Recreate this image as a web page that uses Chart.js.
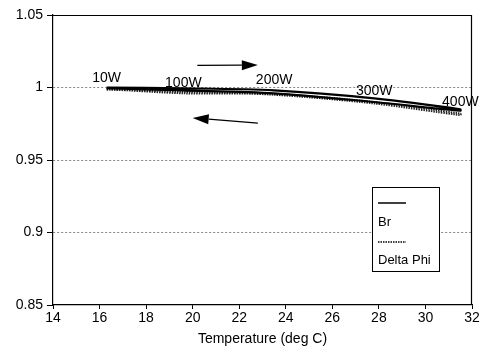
<!DOCTYPE html>
<html><head><meta charset="utf-8">
<script src="https://cdn.jsdelivr.net/npm/chart.js@4/dist/chart.umd.min.js"></script>
<style>html,body{margin:0;padding:0;background:#fff}canvas{display:block}</style>
</head><body>
<canvas id="c" width="486" height="348"></canvas>
<script>
// ---- data ----
const temps      = [16.3, 19.6, 23.5, 27.8, 31.5];
const powerLabels = ['10W', '100W', '200W', '300W', '400W'];
const brHeating   = [1.000, 0.9995, 0.998, 0.9925, 0.985];
const brCooling   = [0.9995, 0.998, 0.996, 0.990, 0.984];
const dphiHeating = [0.999, 0.996, 0.9955, 0.990, 0.982];
const dphiCooling = [0.9985, 0.997, 0.995, 0.989, 0.981];
const xTicks = [14, 16, 18, 20, 22, 24, 26, 28, 30, 32];
const yTicks = [0.85, 0.9, 0.95, 1, 1.05];
const yTickLabels = ['0.85', '0.9', '0.95', '1', '1.05'];
const seriesNames = ['Br', 'Delta Phi'];
const labelY = [1.0035, 1.0005, 1.0025, 0.9945, 0.9875];
const arrowRight = [[20.2, 1.0152], [22.8, 1.0155]];
const arrowLeft  = [[22.8, 0.9755], [20.0, 0.979]];

function loop(vUp, vDown) {
  const pts = temps.map((t, i) => ({x: t, y: vUp[i]}));
  for (let i = temps.length - 1; i >= 0; i--) pts.push({x: temps[i], y: vDown[i]});
  return pts;
}

const FONT = '"Liberation Sans", Arial, Helvetica, sans-serif';

const decor = {
  id: 'decor',
  afterDraw(chart) {
    const {ctx, chartArea: a, scales: {x, y}} = chart;
    ctx.save();
    // top and right borders
    ctx.strokeStyle = '#000'; ctx.lineWidth = 1.2;
    ctx.beginPath();
    ctx.moveTo(a.left, a.top + 0.5); ctx.lineTo(a.right, a.top + 0.5);
    ctx.moveTo(a.right - 0.5, a.top); ctx.lineTo(a.right - 0.5, a.bottom);
    ctx.stroke();
    // power labels
    ctx.fillStyle = '#000';
    ctx.font = '14px ' + FONT;
    ctx.textAlign = 'center'; ctx.textBaseline = 'alphabetic';
    powerLabels.forEach((l, i) => {
      ctx.fillText(l, x.getPixelForValue(temps[i]), y.getPixelForValue(labelY[i]));
    });
    // arrows
    function arrow(p0, p1) {
      const x0 = x.getPixelForValue(p0[0]), y0 = y.getPixelForValue(p0[1]);
      const x1 = x.getPixelForValue(p1[0]), y1 = y.getPixelForValue(p1[1]);
      const ang = Math.atan2(y1 - y0, x1 - x0);
      const hl = 16, hw = 5;
      const bx = x1 - hl * Math.cos(ang), by = y1 - hl * Math.sin(ang);
      ctx.lineWidth = 1.3;
      ctx.beginPath(); ctx.moveTo(x0, y0); ctx.lineTo(bx, by); ctx.stroke();
      ctx.beginPath();
      ctx.moveTo(x1, y1);
      ctx.lineTo(bx + hw * Math.sin(ang), by - hw * Math.cos(ang));
      ctx.lineTo(bx - hw * Math.sin(ang), by + hw * Math.cos(ang));
      ctx.closePath(); ctx.fill();
    }
    arrow(arrowRight[0], arrowRight[1]);
    arrow(arrowLeft[0], arrowLeft[1]);
    // legend box
    const lx = a.left + 319, ly = a.top + 172, lw = 67, lh = 84;
    ctx.fillStyle = '#fff';
    ctx.fillRect(lx, ly, lw, lh);
    ctx.strokeStyle = '#000'; ctx.lineWidth = 1;
    ctx.strokeRect(lx + 0.5, ly + 0.5, lw, lh);
    ctx.lineWidth = 1.5;
    ctx.beginPath(); ctx.moveTo(lx + 6, ly + 16); ctx.lineTo(lx + 34, ly + 16); ctx.stroke();
    ctx.setLineDash([1.5, 1]);
    ctx.beginPath(); ctx.moveTo(lx + 6, ly + 55); ctx.lineTo(lx + 34, ly + 55); ctx.stroke();
    ctx.setLineDash([]);
    ctx.fillStyle = '#000';
    ctx.font = '13px ' + FONT;
    ctx.textAlign = 'left'; ctx.textBaseline = 'middle';
    ctx.fillText(seriesNames[0], lx + 6, ly + 35);
    ctx.fillText(seriesNames[1], lx + 6, ly + 73);
    ctx.restore();
  }
};

new Chart(document.getElementById('c'), {
  type: 'scatter',
  data: {
    datasets: [
      {label: seriesNames[0], data: loop(brHeating, brCooling), showLine: true,
       borderColor: '#000', borderWidth: 2.2, pointRadius: 0, tension: 0.3, fill: false},
      {label: seriesNames[1], data: loop(dphiHeating, dphiCooling), showLine: true,
       borderColor: '#222', borderWidth: 2, borderDash: [1.5, 1], pointRadius: 0, tension: 0.3, fill: false}
    ]
  },
  options: {
    responsive: false,
    animation: false,
    layout: {padding: {top: 15, right: 14, left: 0, bottom: 0}},
    plugins: {legend: {display: false}, tooltip: {enabled: false}},
    scales: {
      x: {
        type: 'linear', min: 14, max: 32,
        afterBuildTicks: s => { s.ticks = xTicks.map(v => ({value: v})); },
        afterFit: s => { s.height = 43; },
        ticks: {color: '#000', font: {family: FONT, size: 14}, padding: 1, maxRotation: 0},
        grid: {drawOnChartArea: false, tickLength: 4, tickColor: '#000'},
        border: {color: '#000', width: 1.2},
        title: {display: true, text: 'Temperature (deg C)', color: '#000',
                font: {family: FONT, size: 14}, padding: {top: 0, bottom: 0}}
      },
      y: {
        type: 'linear', min: 0.85, max: 1.05,
        afterBuildTicks: s => { s.ticks = yTicks.map(v => ({value: v})); },
        afterFit: s => { s.width = 53; },
        ticks: {color: '#000', font: {family: FONT, size: 14}, padding: 4,
                callback: (v) => { const i = yTicks.findIndex(t => Math.abs(t - v) < 1e-9); return i >= 0 ? yTickLabels[i] : ''; }},
        grid: {color: ctx => (ctx.tick && (Math.abs(ctx.tick.value - 1.05) < 1e-9 || Math.abs(ctx.tick.value - 0.85) < 1e-9)) ? 'rgba(0,0,0,0)' : '#888',
               lineWidth: 1, tickLength: 6, tickColor: '#000', tickBorderDash: []},
        border: {color: '#000', width: 1.2, dash: [2, 2]}
      }
    }
  },
  plugins: [decor]
});
</script>
</body></html>
